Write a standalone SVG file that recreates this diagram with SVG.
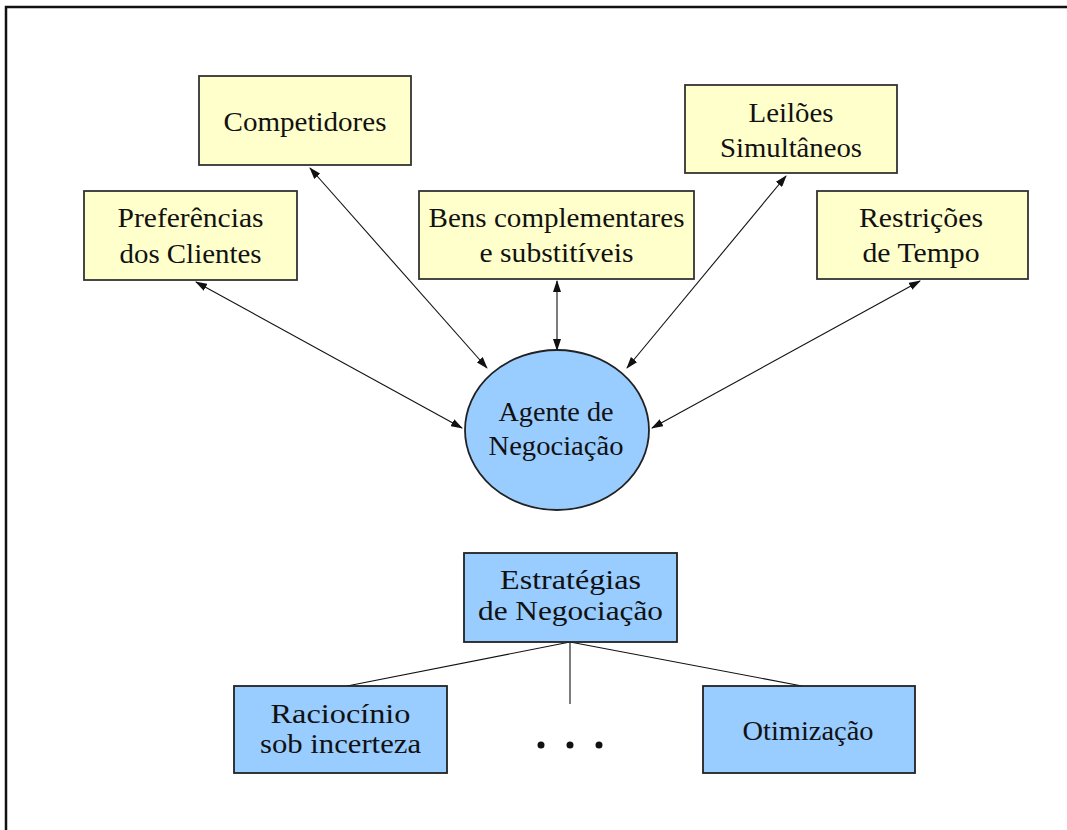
<svg xmlns="http://www.w3.org/2000/svg" width="1067" height="830" viewBox="0 0 1067 830">
<style>
.y{fill:#FFFFCC;stroke:#333;stroke-width:1.8}
.b{fill:#99CCFF;stroke:#222;stroke-width:1.8}
.t{font-family:"Liberation Serif","Times New Roman",serif;font-size:27px;fill:#111;text-anchor:middle}
.c{stroke:#111;stroke-width:1.1;fill:none}
.a{marker-start:url(#ah);marker-end:url(#ah)}
</style>
<defs>
<marker id="ah" markerUnits="userSpaceOnUse" markerWidth="12" markerHeight="8" refX="11" refY="4" orient="auto-start-reverse">
<path d="M0,0 L12,4 L0,8 z" fill="#111"/>
</marker>
</defs>
<rect width="1067" height="830" fill="#fff"/>
<path d="M6,830 V7 H1067" fill="none" stroke="#111" stroke-width="2.5"/>
<g id="connectors">
<line class="c a" x1="196" y1="282" x2="462" y2="428"/>
<line class="c a" x1="310" y1="168" x2="487" y2="368"/>
<line class="c a" x1="557" y1="281" x2="557" y2="350"/>
<line class="c a" x1="786" y1="176" x2="627" y2="368"/>
<line class="c a" x1="920" y1="281" x2="652" y2="428"/>
<line class="c" x1="570" y1="642" x2="347" y2="686"/>
<line class="c" x1="570" y1="642" x2="570" y2="704"/>
<line class="c" x1="570" y1="642" x2="802" y2="686"/>
</g>
<g id="preferencias">
<rect class="y" x="84" y="191" width="213" height="89"/>
<text class="t" x="190.5" y="227" textLength="146" lengthAdjust="spacingAndGlyphs">Preferências</text>
<text class="t" x="190.5" y="263" textLength="142" lengthAdjust="spacingAndGlyphs">dos Clientes</text>
</g>
<g id="competidores">
<rect class="y" x="199" y="76" width="212" height="89"/>
<text class="t" x="305" y="131" textLength="163" lengthAdjust="spacingAndGlyphs">Competidores</text>
</g>
<g id="bens">
<rect class="y" x="419" y="191" width="275" height="88"/>
<text class="t" x="556.5" y="227" textLength="256" lengthAdjust="spacingAndGlyphs">Bens complementares</text>
<text class="t" x="556.5" y="262" textLength="154" lengthAdjust="spacingAndGlyphs">e substitíveis</text>
</g>
<g id="leiloes">
<rect class="y" x="685" y="85" width="212" height="88"/>
<text class="t" x="791" y="122" textLength="85" lengthAdjust="spacingAndGlyphs">Leilões</text>
<text class="t" x="791" y="157" textLength="142" lengthAdjust="spacingAndGlyphs">Simultâneos</text>
</g>
<g id="restricoes">
<rect class="y" x="817" y="191" width="211" height="88"/>
<text class="t" x="921" y="227" textLength="124" lengthAdjust="spacingAndGlyphs">Restrições</text>
<text class="t" x="921" y="262" textLength="117" lengthAdjust="spacingAndGlyphs">de Tempo</text>
</g>
<g id="agente">
<ellipse class="b" cx="557" cy="430" rx="92" ry="80"/>
<text class="t" x="556" y="421" textLength="115" lengthAdjust="spacingAndGlyphs">Agente de</text>
<text class="t" x="556" y="455" textLength="135" lengthAdjust="spacingAndGlyphs">Negociação</text>
</g>
<g id="estrategias">
<rect class="b" x="464" y="553" width="213" height="89"/>
<text class="t" x="570.5" y="589" textLength="141" lengthAdjust="spacingAndGlyphs">Estratégias</text>
<text class="t" x="570.5" y="620" textLength="185" lengthAdjust="spacingAndGlyphs">de Negociação</text>
</g>
<g id="raciocinio">
<rect class="b" x="234" y="686" width="213" height="87"/>
<text class="t" x="340.5" y="723" textLength="140" lengthAdjust="spacingAndGlyphs">Raciocínio</text>
<text class="t" x="340.5" y="753" textLength="161" lengthAdjust="spacingAndGlyphs">sob incerteza</text>
</g>
<g id="otimizacao">
<rect class="b" x="703" y="686" width="212" height="87"/>
<text class="t" x="808" y="740" textLength="131" lengthAdjust="spacingAndGlyphs">Otimização</text>
</g>
<g id="dots" fill="#111">
<circle cx="541" cy="745" r="3.5"/>
<circle cx="570" cy="745" r="3.5"/>
<circle cx="599" cy="745" r="3.5"/>
</g>
</svg>
